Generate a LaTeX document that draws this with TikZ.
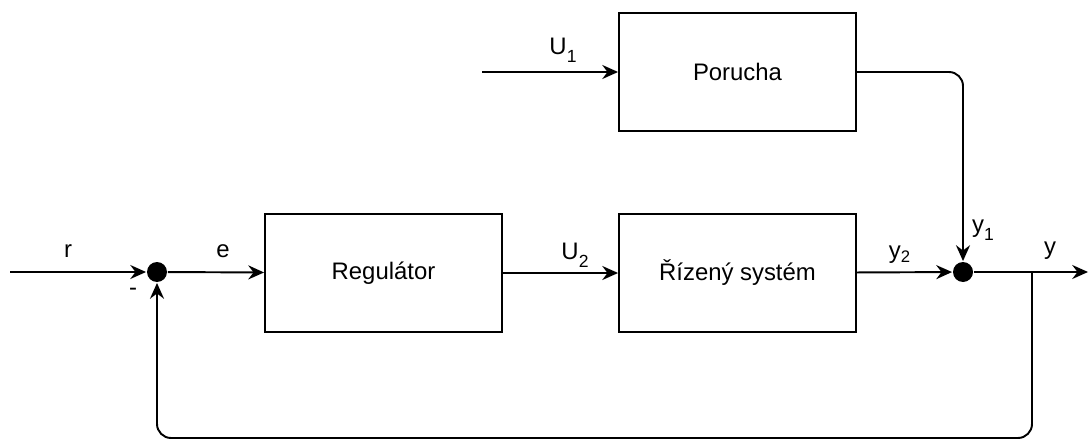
\documentclass[tikz,border=0pt]{standalone}
\usepackage{fontspec}
\setmainfont{Liberation Sans}
\usetikzlibrary{positioning, arrows.meta}

\newcommand{\lowsub}[1]{\raisebox{-0.35em}{\fontsize{10}{10}\selectfont #1}}

\begin{document}
\begin{tikzpicture}[
    x=0.02cm, y=-0.02cm,
    font=\fontsize{13.6}{16}\selectfont,
    line width=1.1pt,
    box/.style={draw, rectangle, minimum width=4.74cm, minimum height=2.36cm, align=center},
    sum/.style={circle, fill=black, inner sep=0pt, minimum size=0.4cm},
    lbl/.style={inner sep=0pt},
    arrow/.style={-{Stealth[length=9pt, width=8pt, inset=3pt]}}
]
\useasboundingbox (0,0) rectangle (1091,446);

% Nodes
\node[sum] (sum1) at (157,272) {};
\node[box] (regulator) at (383.5,273) {Regulátor};
\node[box] (system) at (737.5,273) {Řízený systém};
\node[box] (porucha) at (737.5,72) {Porucha};
\node[sum] (sum2) at (963,272) {};

\coordinate (rin) at (10,272);
\coordinate (uin) at (482,72);
\coordinate (yout) at (1088,272);
\coordinate (branch) at (1032,272);
\coordinate (fb) at (1032,438);

% Labels
\node[lbl] (rlbl) at (68,251) {r};
\node[lbl] (elbl) at (223,251) {e};
\node[lbl] (minus) at (133,292) {-};
\node[lbl] (u1lbl) at (563,50) {U\lowsub{1}};
\node[lbl] (u2lbl) at (575,255) {U\lowsub{2}};
\node[lbl] (y2lbl) at (900,255) {y\textsubscript{2}};
\node[lbl] (y1lbl) at (983,230) {y\lowsub{1}};
\node[lbl] (ylbl) at (1050,251) {y};

% Arrows
\draw[arrow] (rin) -- (sum1);
\draw[arrow] (sum1) -- (regulator);
\draw[arrow] (regulator) -- (system);
\draw[arrow] (system) -- (sum2);
\draw[arrow] (uin) -- (porucha);
\draw[arrow, rounded corners=8] (porucha) -| (sum2);
\draw[arrow] (sum2) -- (yout);
\draw[arrow, rounded corners=8] (branch) -- (fb) -| (sum1);
\end{tikzpicture}
\end{document}
